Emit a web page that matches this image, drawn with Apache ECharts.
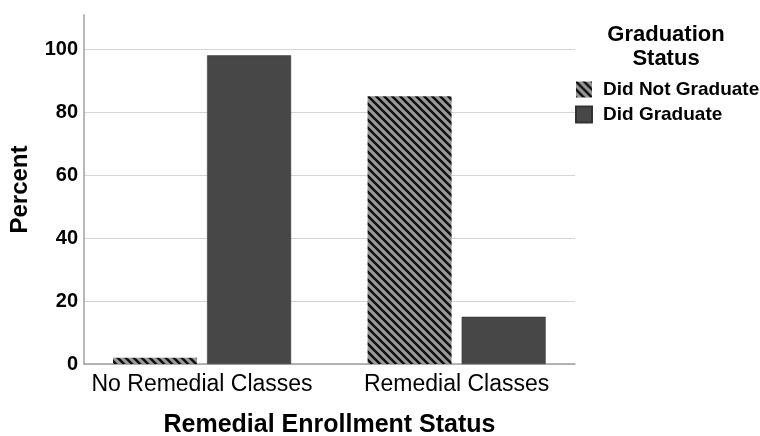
<!DOCTYPE html>
<html>
<head>
<meta charset="utf-8">
<script src="https://cdn.jsdelivr.net/npm/echarts@6/dist/echarts.min.js"></script>
<style>html,body{margin:0;padding:0;background:#fff;overflow:hidden}#c{width:760px;height:436px}</style>
</head>
<body>
<div id="c"></div>
<script>
var categories = ['No Remedial Classes', 'Remedial Classes'];
var seriesNames = ['Did Not Graduate', 'Did Graduate'];
var didNotGraduate = [2, 85];
var didGraduate = [98, 15];
var yTicks = [0, 20, 40, 60, 80, 100];

function hatch() {
  var c = document.createElement('canvas');
  c.width = 8; c.height = 8;
  var g = c.getContext('2d');
  g.fillStyle = '#9a9a9a';
  g.fillRect(0, 0, 8, 8);
  g.strokeStyle = '#111';
  g.lineWidth = 2.6;
  for (var k = -2; k <= 2; k++) {
    g.beginPath();
    g.moveTo(k * 8 - 2, -2);
    g.lineTo(k * 8 + 10, 10);
    g.stroke();
  }
  return c;
}
var pattern = { image: hatch(), repeat: 'repeat' };
var FONT = '"Liberation Sans", Arial, sans-serif';

var chart = echarts.init(document.getElementById('c'), null, { renderer: 'canvas' });
chart.setOption({
  animation: false,
  backgroundColor: '#fff',
  title: {
    text: 'Graduation\nStatus',
    left: 666, top: 23, textAlign: 'center', padding: 0,
    textStyle: { fontFamily: FONT, fontSize: 22, fontWeight: 'bold', color: '#000', lineHeight: 24 }
  },
  legend: {
    orient: 'vertical', left: 575, top: 80, padding: 0,
    itemWidth: 16, itemHeight: 16, itemGap: 6,
    icon: 'rect',
    data: seriesNames,
    textStyle: { fontFamily: FONT, fontSize: 19, fontWeight: 'bold', color: '#000', padding: [0, 0, 0, 6] }
  },
  grid: { left: 84, right: 185, top: 15, height: 349, containLabel: false, outerBoundsMode: 'none' },
  xAxis: {
    type: 'value',
    min: -0.4637, max: 1.465,
    name: 'Remedial Enrollment Status',
    nameLocation: 'middle', nameGap: 49,
    nameTextStyle: { fontFamily: FONT, fontSize: 25, fontWeight: 'bold', color: '#000' },
    axisLine: { show: true, onZero: false, lineStyle: { color: '#a0a0a0', width: 1.5 } },
    axisTick: { show: false },
    splitLine: { show: false },
    axisLabel: {
      customValues: [0, 1],
      formatter: function (v) { return categories[Math.round(v)]; },
      fontFamily: FONT, fontSize: 23, color: '#000', margin: 9
    }
  },
  yAxis: {
    type: 'value', min: 0, max: 110.8,
    name: 'Percent', nameLocation: 'middle', nameGap: 52, nameRotate: 90,
    nameTextStyle: { fontFamily: FONT, fontSize: 24, fontWeight: 'bold', color: '#000' },
    axisLine: { show: true, onZero: false, lineStyle: { color: '#a0a0a0', width: 1.5 } },
    axisTick: { show: false },
    axisLabel: {
      customValues: yTicks,
      fontFamily: FONT, fontSize: 20, fontWeight: 'bold', color: '#000', margin: 6
    },
    splitLine: { show: true, showMaxLine: false, lineStyle: { color: '#d4d4d4', width: 1.2 } }
  },
  series: [
    {
      name: seriesNames[0], type: 'bar', barWidth: 84, barGap: '12%',
      itemStyle: { color: pattern },
      data: didNotGraduate.map(function (v, i) { return [i, v]; })
    },
    {
      name: seriesNames[1], type: 'bar', barWidth: 84, barGap: '12%',
      itemStyle: { color: '#474747', borderColor: '#333', borderWidth: 0.5 },
      data: didGraduate.map(function (v, i) { return [i, v]; })
    }
  ]
});
</script>
</body>
</html>
